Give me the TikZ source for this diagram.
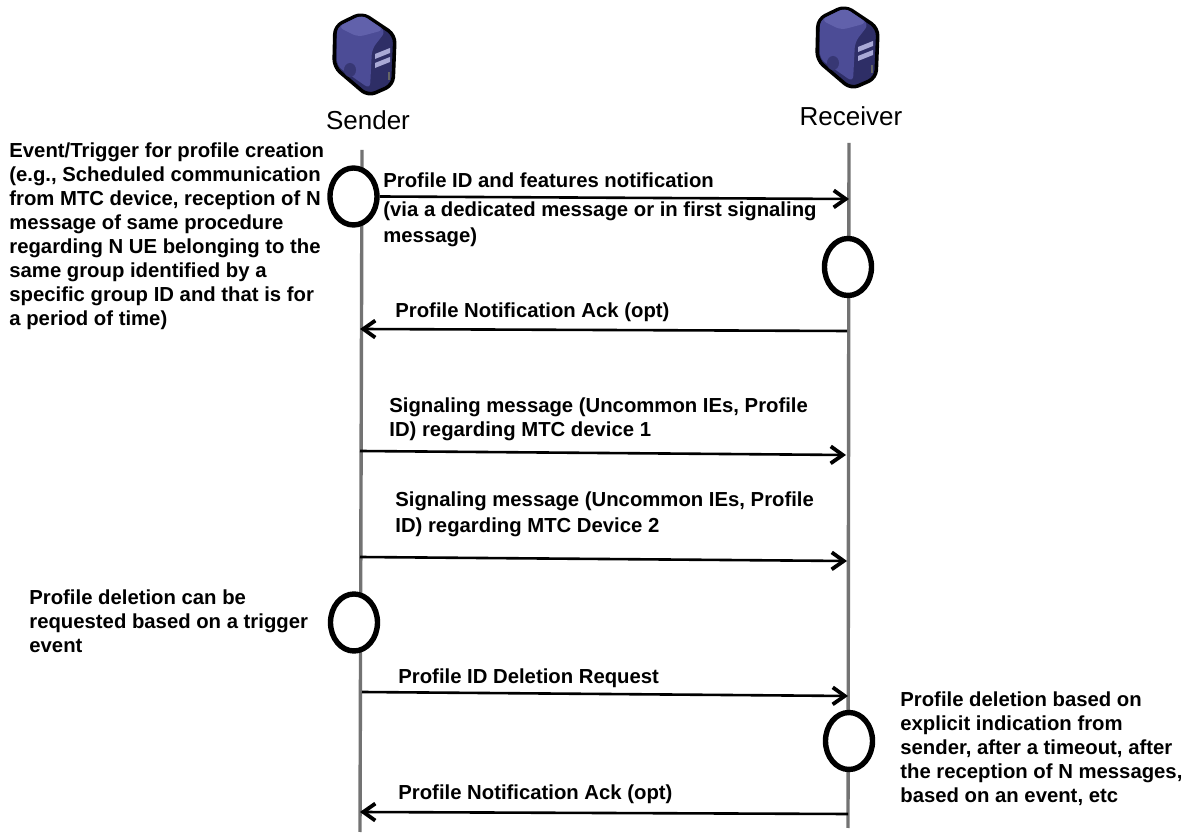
\documentclass[tikz,border=0pt]{standalone}
\usepackage{fontspec}
\setmainfont{Liberation Sans}
\usetikzlibrary{shapes.geometric,arrows.meta}
\definecolor{srvdark}{HTML}{2E2E66}
\definecolor{srvmid}{HTML}{4C4C96}
\definecolor{srvlight}{HTML}{6A6AB4}
\definecolor{srvslot}{HTML}{A9A9D6}
\tikzset{
  srvicon/.pic={
    \fill[srvdark,draw=black,line width=1.8pt,line join=round,rounded corners=4] (-29,-29) -- (-2,-42) -- (31,-20) -- (29,30) -- (4,41) -- (-30,12) -- cycle;
    \fill[srvmid,rounded corners=3] (-27,-28) -- (-2,-40) -- (22,-24) -- (8,-6) -- (6,34) -- (-27,11) -- cycle;
    \fill[srvlight!70!srvmid,rounded corners=3] (-26,-28) -- (-2,-40) -- (20,-25) -- (-6,-18) -- cycle;
    \fill[srvdark!70!srvmid] (-14,15) circle [x radius=6,y radius=7];
    \fill[srvslot] (11,-1) -- (26,-7) -- (26,-2) -- (11,4) -- cycle;
    \fill[srvslot] (11,8) -- (26,2) -- (26,7) -- (11,13) -- cycle;
    \fill[black!60] (24,17) rectangle (26,25);
  }
}
\begin{document}
\begin{tikzpicture}[x=0.5pt,y=-0.5pt]
  \tikzstyle{lifeline}=[draw=black!55,line width=1.7pt]
  \tikzstyle{event}=[ellipse,draw=black,line width=2.7pt,fill=white,minimum width=23.5pt,minimum height=28.5pt,inner sep=0pt]
  \tikzstyle{msg}=[draw=black,line width=1.3pt,-{Straight Barb[length=6pt,width=8.5pt,line width=1.9pt]}]
  \tikzstyle{note}=[anchor=north west,align=left,inner sep=0pt,font=\fontsize{10.15}{12.05}\selectfont\bfseries]
  \tikzstyle{actor}=[inner sep=0pt,font=\fontsize{13}{15}\selectfont]
  \useasboundingbox (0,0) rectangle (1195,833);

  \pic at (364,55) {srvicon};
  \pic at (847,48) {srvicon};
  \node [actor] (sender) at (368,120) {Sender};
  \node [actor] (receiver) at (851,116) {Receiver};

  \coordinate (st) at (362,150);
  \coordinate (sb) at (360,832);
  \coordinate (rt) at (849,143);
  \coordinate (rb) at (848,828);
  \path[lifeline] (st) -- (sb);
  \path[lifeline] (rt) -- (rb);

  \node [event] (ev1) at (353.5,196.5) {};
  \node [event] (ev2) at (848,267) {};
  \node [event] (ev3) at (354,622.5) {};
  \node [event] (ev4) at (849,741) {};

  \coordinate (a1) at (849,199);
  \coordinate (a2s) at (847,331);
  \coordinate (a2e) at (360,329);
  \coordinate (a3s) at (360,451);
  \coordinate (a3e) at (846,455);
  \coordinate (a4s) at (360,557);
  \coordinate (a4e) at (847,561);
  \coordinate (a5s) at (362,692);
  \coordinate (a5e) at (848,696);
  \coordinate (a6s) at (848,814);
  \coordinate (a6e) at (360,812);
  \path[msg] (ev1.east) -- (a1);
  \path[msg] (a2s) -- (a2e);
  \path[msg] (a3s) -- (a3e);
  \path[msg] (a4s) -- (a4e);
  \path[msg] (a5s) -- (a5e);
  \path[msg] (a6s) -- (a6e);

  \node [note] (t1) at (9,142) {Event/Trigger for profile creation\\(e.g., Scheduled communication\\from MTC device, reception of N\\message of same procedure\\regarding N UE belonging to the\\same group identified by a\\specific group ID and that is for\\a period of time)};
  \node [note,font=\fontsize{10.15}{13}\selectfont\bfseries] (t2) at (383,172) {Profile ID and features notification\\[1.5pt](via a dedicated message or in first signaling\\message)};
  \node [note] (t3) at (395,302) {Profile Notification Ack (opt)};
  \node [note] (t4) at (389,397) {Signaling message (Uncommon IEs, Profile\\ID) regarding MTC device 1};
  \node [note,font=\fontsize{10.15}{13}\selectfont\bfseries] (t5) at (395,491) {Signaling message (Uncommon IEs, Profile\\ID) regarding MTC Device 2};
  \node [note] (t6) at (29,589) {Profile deletion can be\\requested based on a trigger\\event};
  \node [note] (t7) at (398,668) {Profile ID Deletion Request};
  \node [note] (t8) at (900,691) {Profile deletion based on\\explicit indication from\\sender, after a timeout, after\\the reception of N messages,\\based on an event, etc};
  \node [note] (t9) at (398,784) {Profile Notification Ack (opt)};
\end{tikzpicture}
\end{document}
